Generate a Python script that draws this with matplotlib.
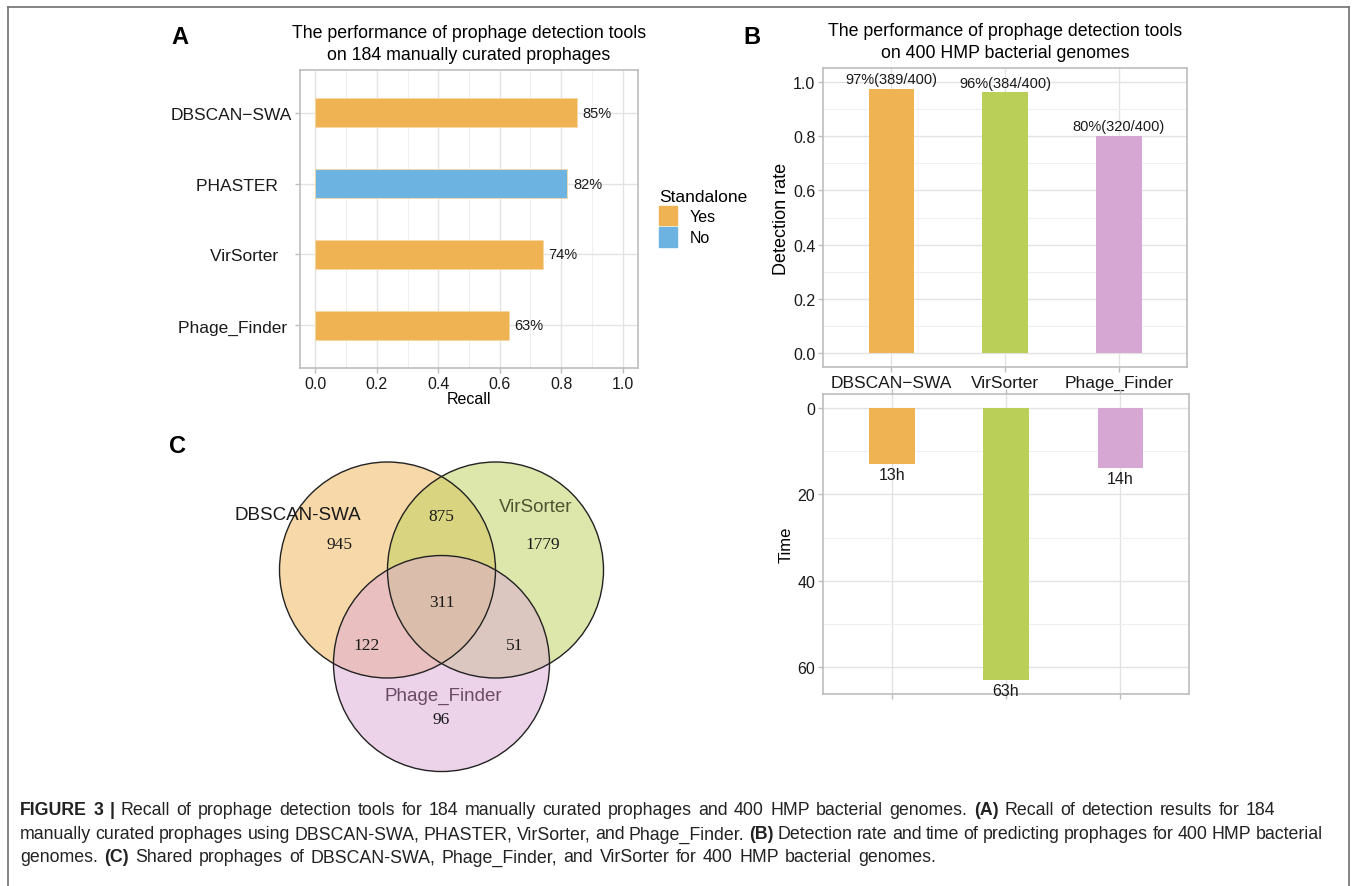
import matplotlib
matplotlib.use('Agg')
import matplotlib.pyplot as plt
from matplotlib.patches import Patch, Circle
from matplotlib.lines import Line2D
import numpy as np

plt.rcParams['font.family'] = ['Liberation Sans', 'DejaVu Sans']

# ---- data ----
# A: recall on 184 curated prophages
tools_a = ['DBSCAN−SWA', 'PHASTER   ', 'VirSorter   ', 'Phage_Finder ']
recall = [0.85, 0.82, 0.74, 0.63]
standalone = ['Yes', 'No', 'Yes', 'Yes']

# B: 400 HMP genomes
tools_b = ['DBSCAN−SWA', 'VirSorter', 'Phage_Finder']
detected = [389, 384, 320]
n_genomes = 400
hours = [13, 63, 14]

# C: venn
venn_names = ['DBSCAN-SWA', 'VirSorter', 'Phage_Finder']
region_counts = [945, 1779, 96, 875, 122, 51, 311]  # A, B, C, AB, AC, BC, ABC

W, H = 1354, 887
col_yes, col_no = '#F0B354', '#6DB3E2'
cols_b = ['#F0B354', '#BACF58', '#D6A7D2']


def fx(x):
    return x / W


def fy(y):
    return 1 - y / H


def box(l, t, r, b):
    return [fx(l), fy(b), (r - l) / W, (b - t) / H]


def gg(ax):
    for s in ax.spines.values():
        s.set_color('#BDBDBD')
        s.set_linewidth(1.2)
    ax.tick_params(which='major', color='#BDBDBD', length=3.5, width=1,
                   labelsize=11.5, labelcolor='#1a1a1a', pad=2)
    ax.tick_params(which='minor', length=0)
    ax.set_axisbelow(True)


fig = plt.figure(figsize=(W / 100, H / 100), dpi=100)

# ---- panel A ----
ax = fig.add_axes(box(300, 71, 638, 369))
gg(ax)
ya = np.arange(len(recall))[::-1] + 1
cols_a = [col_yes if s == 'Yes' else col_no for s in standalone]
ax.barh(ya, recall, height=0.4, color=cols_a, edgecolor='#F7D9A5', linewidth=0.6)
for y, v in zip(ya, recall):
    ax.annotate(f'{round(v * 100)}%', (v, y), xytext=(4, 0), textcoords='offset points',
                va='center', ha='left', fontsize=10.5, color='#1a1a1a')
ax.set_xlim(-0.05, 1.05)
ax.set_ylim(0.4, 4.6)
ax.set_xticks(np.arange(0, 1.01, 0.2))
ax.set_xticks(np.arange(0.1, 1.0, 0.2), minor=True)
ax.set_yticks(ya)
ax.set_yticklabels(tools_a, fontsize=12.5)
ax.xaxis.grid(True, which='major', color='#E3E3E3', lw=1.0)
ax.xaxis.grid(True, which='minor', color='#EFEFEF', lw=0.8)
ax.yaxis.grid(True, which='major', color='#E3E3E3', lw=1.0)
ax.set_xlabel('Recall', fontsize=11.5, labelpad=0)
ax.set_title('The performance of prophage detection tools\non 184 manually curated prophages',
             fontsize=12.8, pad=8, linespacing=1.4)

fig.legend(handles=[Patch(color=col_yes, label='Yes'), Patch(color=col_no, label='No')],
           title='Standalone', loc='upper left', bbox_to_anchor=(fx(645), fy(176)),
           frameon=False, fontsize=11.5, title_fontsize=12.5, handlelength=1.1,
           handleheight=1.5, labelspacing=0.1, handletextpad=0.8, alignment='left')

# ---- panel B upper ----
ax = fig.add_axes(box(823, 69, 1187, 368))
gg(ax)
xb = np.arange(len(tools_b)) + 1
rate = [d / n_genomes for d in detected]
ax.bar(xb, rate, width=0.4, color=cols_b)
for x, r, d in zip(xb, rate, detected):
    ax.annotate(f'{round(r * 100)}%({d}/{n_genomes})', (x, r), xytext=(0, 2),
                textcoords='offset points', ha='center', va='bottom', fontsize=10.5,
                color='#1a1a1a')
ax.set_xlim(0.4, 3.6)
ax.set_ylim(-0.05, 1.05)
ax.set_yticks(np.arange(0, 1.01, 0.2))
ax.set_yticks(np.arange(0.1, 1.0, 0.2), minor=True)
ax.set_xticks(xb)
ax.set_xticklabels(tools_b, fontsize=12.5)
ax.yaxis.grid(True, which='major', color='#E3E3E3', lw=1.0)
ax.yaxis.grid(True, which='minor', color='#EFEFEF', lw=0.8)
ax.xaxis.grid(True, which='major', color='#E3E3E3', lw=1.0)
ax.set_ylabel('Detection rate', fontsize=13, labelpad=2)
ax.set_title('The performance of prophage detection tools\non 400 HMP bacterial genomes',
             fontsize=12.8, pad=8, linespacing=1.4)

# ---- panel B lower ----
ax = fig.add_axes(box(823, 395, 1189, 695))
gg(ax)
ax.bar(xb, hours, width=0.4, color=cols_b)
for x, h in zip(xb, hours):
    ax.annotate(f'{h}h', (x, h), xytext=(0, -2), textcoords='offset points',
                ha='center', va='top', fontsize=11.5, color='#1a1a1a')
ax.set_xlim(0.4, 3.6)
ax.set_ylim(66.15, -3.15)
ax.set_yticks([0, 20, 40, 60])
ax.set_yticks([10, 30, 50], minor=True)
ax.set_xticks(xb)
ax.tick_params(axis='x', top=True, bottom=True, labelbottom=False)
ax.yaxis.grid(True, which='major', color='#E3E3E3', lw=1.0)
ax.yaxis.grid(True, which='minor', color='#EFEFEF', lw=0.8)
ax.xaxis.grid(True, which='major', color='#E3E3E3', lw=1.0)
ax.set_ylabel('Time', fontsize=12, labelpad=3)

# ---- panel C: venn ----
ax = fig.add_axes(box(250, 440, 650, 790))
r_px = 108.0
cx0, cy0 = 441.5, 571
ax.set_xlim((250 - cx0) / r_px, (650 - cx0) / r_px)
ax.set_ylim((cy0 - 790) / r_px, (cy0 - 440) / r_px)
ax.set_aspect('equal')
ax.axis('off')
centers = [(-0.5, 0.0), (0.5, 0.0), (0.0, -np.sqrt(3) / 2)]
fills = ['#F0B354', '#BDD158', '#DCA9D6']
for c, f in zip(centers, fills):
    ax.add_patch(Circle(c, 1.0, facecolor=f, alpha=0.5, edgecolor='none'))
for c in centers:
    ax.add_patch(Circle(c, 1.0, facecolor='none', edgecolor='#222222', lw=1.0))
count_pos = [(-0.94, 0.24), (0.94, 0.24), (0.0, -1.38), (0.0, 0.5),
             (-0.69, -0.69), (0.68, -0.69), (0.0, -0.30)]
for (px, py), n in zip(count_pos, region_counts):
    ax.text(px, py, str(n), ha='center', va='center', fontsize=12.5,
            family='Liberation Serif', color='#1a1a1a')
name_pos = [(-1.33, 0.51), (0.87, 0.59), (0.02, -1.16)]
name_cols = ['#1a1a1a', '#4d5530', '#6b4a66']
for (px, py), n, c in zip(name_pos, venn_names, name_cols):
    ax.text(px, py, n, ha='center', va='center', fontsize=13.5, color=c)

# ---- panel letters ----
for lab, (x, y) in zip('ABC', [(180, 37), (752, 37), (178, 447)]):
    fig.text(fx(x), fy(y), lab, fontsize=17, fontweight='bold', ha='center', va='center')

# ---- frame ----
fc = '#707070'
fig.add_artist(Line2D([fx(8), fx(8)], [0, fy(8)], color=fc, lw=1.2))
fig.add_artist(Line2D([fx(8), fx(1349)], [fy(8), fy(8)], color=fc, lw=1.2))
fig.add_artist(Line2D([fx(1349), fx(1349)], [0, fy(8)], color=fc, lw=1.2))

# ---- caption (word by word, lightly justified) ----
cap_lines = [
    [('FIGURE 3 |', 'bold'),
     ('Recall of prophage detection tools for 184 manually curated prophages and 400 HMP bacterial genomes.', 'normal'),
     ('(A)', 'bold'), ('Recall of detection results for 184', 'normal')],
    [('manually curated prophages using DBSCAN-SWA, PHASTER, VirSorter, and Phage_Finder.', 'normal'),
     ('(B)', 'bold'),
     ('Detection rate and time of predicting prophages for 400 HMP bacterial', 'normal')],
    [('genomes.', 'normal'), ('(C)', 'bold'),
     ('Shared prophages of DBSCAN-SWA, Phage_Finder, and VirSorter for 400 HMP bacterial genomes.', 'normal')],
]
cap_y = [811, 835, 858]
cap_end = [1290, 1323, 940]
cap_fs = 12.8
renderer = fig.canvas.get_renderer()
tmp = fig.text(0, 0, 'a a', fontsize=cap_fs)
w2 = tmp.get_window_extent(renderer).width
tmp.set_text('aa')
space_w = w2 - tmp.get_window_extent(renderer).width
tmp.remove()
for parts, y, x_end in zip(cap_lines, cap_y, cap_end):
    words = []
    for s, wgt in parts:
        words += [(w, wgt) for w in s.split(' ')]
    arts = [fig.text(0, fy(y), w, fontsize=cap_fs, fontweight=wgt, color='#222222',
                     ha='left', va='center') for w, wgt in words]
    widths = [a.get_window_extent(renderer).width for a in arts]
    gap = (x_end - 20 - sum(widths)) / (len(arts) - 1)
    gap = min(max(gap, space_w * 0.85), space_w * 1.3)
    x = 20
    for a, w in zip(arts, widths):
        a.set_x(fx(x))
        x += w + gap

fig.savefig('out.png', dpi=100)
